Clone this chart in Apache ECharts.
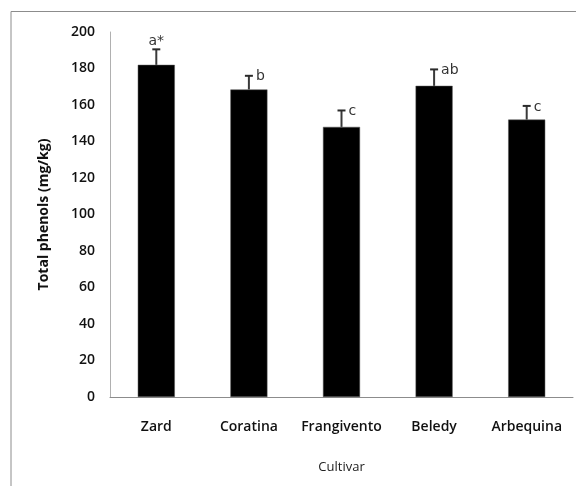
<!DOCTYPE html>
<html>
<head>
<meta charset="utf-8">
<script src="https://cdn.jsdelivr.net/npm/echarts@6/dist/echarts.min.js"></script>
<style>
  html, body { margin: 0; padding: 0; background: #fff; }
  #chart { width: 576px; height: 486px; }
</style>
</head>
<body>
<div id="chart"></div>
<script>
// values
const cultivars = ["Zard", "Coratina", "Frangivento", "Beledy", "Arbequina"];
const phenols = [182, 168.5, 148, 170.5, 152];
const errors = [8.5, 7.5, 9, 9, 7.5];
const letters = ["a*", "b", "c", "ab", "c"];
const yTicks = [0, 200, 20];

const fontFam = "'Open Sans', 'Noto Sans', sans-serif";
const chart = echarts.init(document.getElementById("chart"));

chart.setOption({
  animation: false,
  graphic: [
    {
      type: "polyline",
      shape: { points: [[11, 500], [11, 11.5], [600, 11.5]] },
      style: { stroke: "#8c8c8c", lineWidth: 1, fill: null },
    },
  ],
  grid: { left: 110, right: 3, top: 32, bottom: 89 },
  xAxis: {
    type: "category",
    data: cultivars,
    name: "Cultivar",
    nameLocation: "middle",
    nameGap: 64,
    nameTextStyle: { fontFamily: fontFam, fontSize: 13, color: "#222" },
    axisTick: { show: false },
    axisLine: { lineStyle: { color: "#8c8c8c", width: 1 } },
    axisLabel: { interval: 0, fontFamily: fontFam, fontSize: 14, color: "#111", fontWeight: 600, margin: 23 },
  },
  yAxis: {
    type: "value",
    min: yTicks[0],
    max: yTicks[1],
    interval: yTicks[2],
    name: "Total phenols (mg/kg)",
    nameLocation: "middle",
    nameGap: 59,
    nameRotate: 90,
    nameTextStyle: { fontFamily: fontFam, fontSize: 14, fontWeight: "bold", color: "#111" },
    axisLine: { show: true, lineStyle: { color: "#b0b0b0", width: 1 } },
    axisTick: { show: false },
    splitLine: { show: false },
    axisLabel: { fontFamily: fontFam, fontSize: 14, color: "#111", fontWeight: 600, margin: 15 },
  },
  series: [
    {
      type: "bar",
      data: phenols,
      barWidth: "40%",
      itemStyle: { color: "#000", borderColor: "#555", borderWidth: 0.5 },
    },
    {
      type: "custom",
      data: phenols.map((v, i) => [i, v, v + errors[i]]),
      z: 5,
      renderItem: function (params, api) {
        const i = api.value(0);
        const base = api.coord([i, api.value(1)]);
        const top = api.coord([i, api.value(2)]);
        const capHalf = 4;
        const lab = letters[params.dataIndex];
        const first = params.dataIndex === 0;
        return {
          type: "group",
          children: [
            {
              type: "line",
              shape: { x1: base[0], y1: base[1], x2: top[0], y2: top[1] },
              style: { stroke: "#3a3a3a", lineWidth: 2 },
            },
            {
              type: "line",
              shape: { x1: top[0] - capHalf, y1: top[1], x2: top[0] + capHalf, y2: top[1] },
              style: { stroke: "#2a2a2a", lineWidth: 2 },
            },
            {
              type: "text",
              style: {
                text: lab,
                x: first ? top[0] : top[0] + capHalf + 3,
                y: first ? top[1] - 1 : top[1] + 1,
                align: first ? "center" : "left",
                verticalAlign: first ? "bottom" : "middle",
                fontFamily: "'DejaVu Sans', sans-serif",
                fontSize: 14,
                fill: "#333",
              },
            },
          ],
        };
      },
    },
  ],
});
</script>
</body>
</html>
